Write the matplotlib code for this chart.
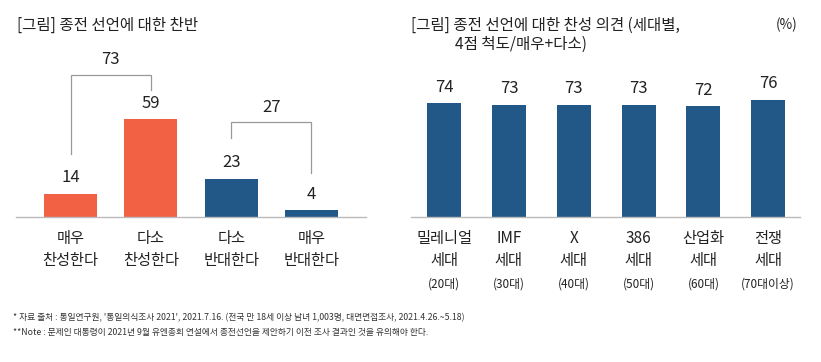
import matplotlib
matplotlib.use("Agg")
import matplotlib.pyplot as plt
import matplotlib.transforms as mtransforms

plt.rcParams['font.family'] = ['Noto Sans CJK KR', 'DejaVu Sans']

# data
left_cats = [['매우', '찬성한다'], ['다소', '찬성한다'], ['다소', '반대한다'], ['매우', '반대한다']]
left_vals = [14, 59, 23, 4]
left_pairs = [(0, 1), (2, 3)]
left_sums = [73, 27]

right_cats = [['밀레니얼', '세대'], ['IMF', '세대'], ['X', '세대'], ['386', '세대'], ['산업화', '세대'], ['전쟁', '세대']]
right_ages = ['(20대)', '(30대)', '(40대)', '(50대)', '(60대)', '(70대이상)']
right_vals = [74, 73, 73, 73, 72, 76]

ORANGE = '#F26144'
BLUE = '#225888'
TXT = '#222222'
W, H = 821, 362

fig = plt.figure(figsize=(W / 100, H / 100), dpi=100)


def px_axes(x0, x1, ybase, ytop):
    return fig.add_axes([x0 / W, (H - ybase) / H, (x1 - x0) / W, (ybase - ytop) / H])


# ---- left chart
ax1 = px_axes(16, 366, 217, 50)
colors = [ORANGE, ORANGE, BLUE, BLUE]
xs = list(range(len(left_vals)))
ax1.bar(xs, left_vals, width=0.66, color=colors)
ax1.set_xlim(-0.681, 3.68)
ax1.set_ylim(0, 100.6)

for x, v in zip(xs, left_vals):
    ax1.annotate(str(v), (x, v), xytext=(0, 11.5), textcoords='offset points',
                 ha='center', va='center', fontsize=12, color=TXT)

# brackets (top height, left end, right end in value units)
bracket_geo = [(85.5, 38, 76.5), (57, 47.6, 26.5)]
for (i, j), s, (top, yl, yr) in zip(left_pairs, left_sums, bracket_geo):
    ax1.plot([i, i, j, j], [yl, top, top, yr], color='#999999', lw=0.9, solid_joinstyle='miter')
    ax1.annotate(str(s), ((i + j) / 2, top), xytext=(0, 11), textcoords='offset points',
                 ha='center', va='center', fontsize=12, color=TXT)

trans1 = mtransforms.blended_transform_factory(ax1.transData, ax1.transAxes)
for x, (l1, l2) in zip(xs, left_cats):
    ax1.annotate(l1, (x, 0), xycoords=trans1, xytext=(0, -15.5), textcoords='offset points',
                 ha='center', va='center', fontsize=11, color=TXT)
    ax1.annotate(l2, (x, 0), xycoords=trans1, xytext=(0, -31.5), textcoords='offset points',
                 ha='center', va='center', fontsize=11, color=TXT)

# ---- right chart
ax2 = px_axes(411, 800, 217, 50)
xs2 = list(range(len(right_vals)))
ax2.bar(xs2, right_vals, width=0.525, color=BLUE)
ax2.set_xlim(-0.51, 5.49)
ax2.set_ylim(0, 108.4)

for x, v in zip(xs2, right_vals):
    ax2.annotate(str(v), (x, v), xytext=(0, 11.5), textcoords='offset points',
                 ha='center', va='center', fontsize=12, color=TXT)

trans2 = mtransforms.blended_transform_factory(ax2.transData, ax2.transAxes)
for x, (l1, l2), age in zip(xs2, right_cats, right_ages):
    ax2.annotate(l1, (x, 0), xycoords=trans2, xytext=(0, -15.5), textcoords='offset points',
                 ha='center', va='center', fontsize=11, color=TXT)
    ax2.annotate(l2, (x, 0), xycoords=trans2, xytext=(0, -31.5), textcoords='offset points',
                 ha='center', va='center', fontsize=11, color=TXT)
    ax2.annotate(age, (x, 0), xycoords=trans2, xytext=(0, -48.5), textcoords='offset points',
                 ha='center', va='center', fontsize=8.5, color=TXT)

for ax in (ax1, ax2):
    for sp in ('top', 'right', 'left'):
        ax.spines[sp].set_visible(False)
    ax.spines['bottom'].set_color('#BBBBBB')
    ax.spines['bottom'].set_linewidth(1)
    ax.set_xticks([])
    ax.set_yticks([])
    ax.patch.set_alpha(0)

# titles and notes
fig.text(17 / W, 1 - 25 / H, '[그림] 종전 선언에 대한 찬반', fontsize=11.2, color=TXT, va='center')
fig.text(411 / W, 1 - 25 / H, '[그림] 종전 선언에 대한 찬성 의견 (세대별,', fontsize=11.2, color=TXT, va='center')
fig.text(455 / W, 1 - 44 / H, '4점 척도/매우+다소)', fontsize=11.2, color=TXT, va='center')
fig.text(776 / W, 1 - 25 / H, '(%)', fontsize=9.8, color=TXT, va='center')

fig.text(13 / W, 1 - 318 / H,
         "* 자료 출처 : 통일연구원, '통일의식조사 2021', 2021.7.16. (전국 만 18세 이상 남녀 1,003명, 대면면접조사, 2021.4.26.~5.18)",
         fontsize=6.3, color='#333333', va='center')
fig.text(13 / W, 1 - 333 / H,
         "**Note : 문제인 대통령이 2021년 9월 유엔총회 연설에서 종전선언을 제안하기 이전 조사 결과인 것을 유의해야 한다.",
         fontsize=6.3, color='#333333', va='center')

fig.savefig('out.png', dpi=100)
